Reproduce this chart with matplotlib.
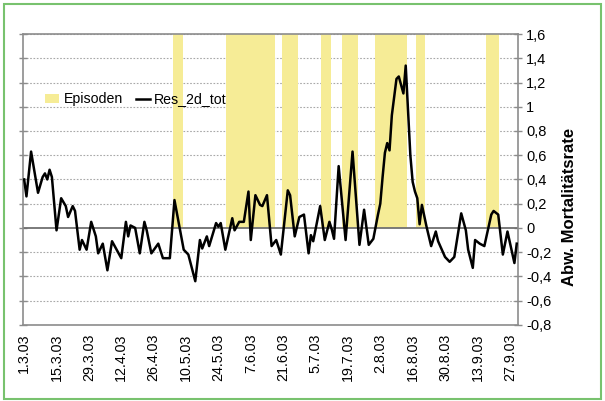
import pandas as pd
import matplotlib
matplotlib.use("Agg")
import matplotlib.pyplot as plt
from matplotlib.patches import Patch, Rectangle
from matplotlib.lines import Line2D

plt.rcParams['font.family'] = ['Liberation Sans', 'DejaVu Sans']

# days after 1.3.03 and the residual value
res_days = [0, 1, 3, 6, 8, 9, 10, 11, 12, 14, 16, 18, 19, 21, 22, 24, 25, 27, 29, 31,
            32, 34, 36, 38, 40, 42, 44, 45, 46, 48, 50, 52, 53, 55, 58, 60, 63, 65, 67, 69,
            71, 74, 76, 77, 79, 80, 83, 84, 85, 87, 90, 91, 93, 95, 97, 98, 100, 102, 103, 105,
            107, 109, 111, 114, 115, 117, 119, 121, 123, 124, 125, 128, 130, 132, 133, 134, 136, 139, 142, 145,
            147, 149, 151, 153, 154, 155, 156, 157, 158, 159, 161, 162, 164, 165, 167, 168, 169, 170, 171, 172,
            174, 176, 178, 179, 182, 184, 186, 189, 191, 192, 194, 195, 197, 199, 202, 203, 205, 207, 209, 212, 213]
res_vals = [0.40, 0.26, 0.63, 0.29, 0.42, 0.45, 0.40, 0.48, 0.42, -0.02, 0.245, 0.18, 0.09, 0.18, 0.14, -0.18, -0.10, -0.18, 0.05, -0.07,
            -0.21, -0.13, -0.35, -0.11, -0.18, -0.25, 0.05, -0.07, 0.02, 0.00, -0.21, 0.05, -0.02, -0.21, -0.13, -0.25, -0.25, 0.23, 0.025, -0.18,
            -0.22, -0.44, -0.10, -0.17, -0.07, -0.15, 0.04, 0.01, 0.04, -0.18, 0.08, -0.02, 0.05, 0.05, 0.30, -0.10, 0.27, 0.19, 0.18, 0.27,
            -0.15, -0.10, -0.22, 0.31, 0.27, -0.07, 0.09, 0.11, -0.21, -0.06, -0.11, 0.18, -0.10, 0.05, -0.01, -0.09, 0.51, -0.10, 0.63, -0.14,
            0.15, -0.14, -0.09, 0.11, 0.20, 0.42, 0.62, 0.70, 0.64, 0.93, 1.23, 1.25, 1.11, 1.34, 0.60, 0.38, 0.30, 0.245, 0.03, 0.19,
            0.01, -0.15, -0.03, -0.11, -0.24, -0.28, -0.24, 0.12, -0.02, -0.18, -0.33, -0.10, -0.13, -0.15, 0.11, 0.14, 0.11, -0.22, -0.03, -0.29, -0.13]

# episodes: first and last day (days after 1.3.03)
episode_start = [65, 88, 112, 129, 138, 152, 170, 200]
episode_end = [68, 108, 118, 132, 144, 165, 173, 205]
episode_height = 1.6

tick_days = [0, 14, 28, 42, 56, 70, 84, 98, 112, 126, 140, 154, 168, 182, 196, 210]
tick_labels = ["1.3.03", "15.3.03", "29.3.03", "12.4.03", "26.4.03", "10.5.03", "24.5.03", "7.6.03",
               "21.6.03", "5.7.03", "19.7.03", "2.8.03", "16.8.03", "30.8.03", "13.9.03", "27.9.03"]
y_ticks = [-0.8, -0.6, -0.4, -0.2, 0, 0.2, 0.4, 0.6, 0.8, 1, 1.2, 1.4, 1.6]
y_labels = ["-0,8", "-0,6", "-0,4", "-0,2", "0", "0,2", "0,4", "0,6", "0,8", "1", "1,2", "1,4", "1,6"]

yellow = '#F6EC96'
gray = '#8c8c8c'

fig = plt.figure(figsize=(6.05, 4.01), dpi=100)
ax = fig.add_axes([0.038, 0.19, 0.818, 0.725])

# episode bars, one per day
ep_days = []
for s, e in zip(episode_start, episode_end):
    ep_days += list(range(s, e + 1))
ax.bar(ep_days, [episode_height] * len(ep_days), width=1.0, color=yellow, linewidth=0, zorder=1)

for y in y_ticks:
    if y != 0:
        ax.axhline(y, color='#a8a8a8', lw=0.8, ls=(0, (1.5, 1.5)), zorder=0)
ax.axhline(0, color='#707070', lw=1.3, zorder=2)

ax.plot(res_days, res_vals, color='black', lw=1.8, zorder=3)

ax.set_xlim(-0.5, 213.5)
ax.set_ylim(-0.8, 1.6)
ax.set_xticks(tick_days)
ax.set_xticklabels(tick_labels, rotation=90, fontsize=10.3)
ax.tick_params(axis='x', length=0, pad=6)

ax.set_yticks(y_ticks)
ax.set_yticklabels(y_labels, fontsize=10.5)
ax.tick_params(axis='y', left=True, right=True, labelleft=False, labelright=True,
               direction='inout', length=6, color=gray, width=1, pad=3)
ax.yaxis.set_label_position('right')
ax.set_ylabel("Abw. Mortalitätsrate", fontsize=12, fontweight='bold')
ax.yaxis.set_label_coords(1.09, 0.405)

for sp in ax.spines.values():
    sp.set_color(gray)
    sp.set_linewidth(1.2)

handles = [Patch(facecolor=yellow, edgecolor='none'), Line2D([], [], color='black', lw=1.8)]
ax.legend(handles, ["Episoden", "Res_2d_tot"], loc='center left', bbox_to_anchor=(0.025, 0.775),
          frameon=False, ncol=2, fontsize=10.2, handlelength=1.0, handletextpad=0.3,
          columnspacing=0.9, borderpad=0.2)

# light green frame around the whole picture
fig.patches.append(Rectangle((0.006, 0.006), 0.988, 0.985, transform=fig.transFigure,
                             fill=False, edgecolor='#78c26e', lw=1.5))

fig.savefig("out.png", dpi=100)
